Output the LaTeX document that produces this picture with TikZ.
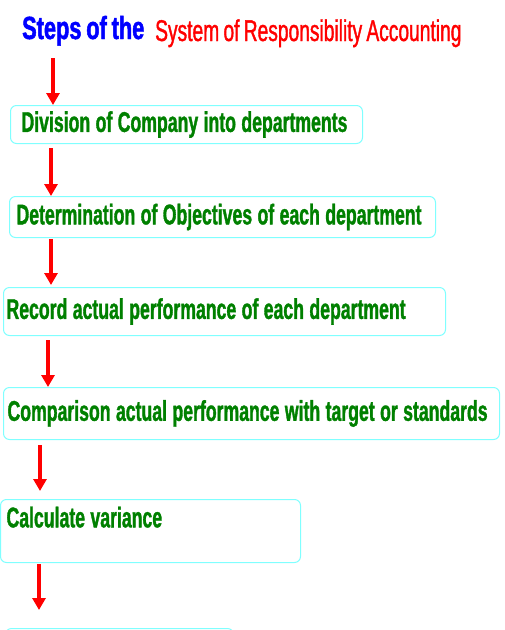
\documentclass[tikz,border=0pt]{standalone}
\usepackage{fontspec}
\usetikzlibrary{arrows.meta}
\newfontfamily\stepfont{Liberation Sans Bold}[FakeStretch=0.62,FakeBold=1.2,WordSpace=1.1]
\newfontfamily\headfont{Liberation Sans Bold}[FakeStretch=0.68,FakeBold=1.5,WordSpace=0.8]
\newfontfamily\subheadfont{Liberation Sans}[FakeStretch=0.64,FakeBold=1.2,WordSpace=0.8]
\definecolor{boxcyan}{RGB}{128,255,255}
\definecolor{stepgreen}{RGB}{0,128,0}
\hyphenpenalty=10000
\tikzset{
    mybox/.style = {rectangle, draw=boxcyan, line width=1pt, rounded corners=6pt,
        anchor=north west, align=flush left, inner ysep=0pt, text=stepgreen,
        font=\stepfont\fontsize{28.5pt}{32pt}\selectfont},
    flowr/.style = {-{Triangle[width=13pt,length=12pt]}, line width=4pt, red},
    headb/.style = {anchor=base west, inner sep=0pt, text=blue,
        font=\headfont\fontsize{32pt}{36pt}\selectfont},
    headr/.style = {anchor=base west, inner sep=0pt, text=red,
        font=\subheadfont\fontsize{30pt}{34pt}\selectfont}
}

\begin{document}
\begin{tikzpicture}[x=1pt,y=-1pt]
\useasboundingbox (0,0) rectangle (505,630);
\node[headb] at (22,39) (t1) {Steps of the};
\node[headr] at (155,41) (t2) {System of Responsibility Accounting};
\coordinate (start) at (53,58);
%
\node[mybox, inner xsep=11pt, text width=330pt, minimum height=38pt] at (10,105) (b1) {Division of Company into departments};
\node[mybox, inner xsep=7pt, text width=412pt, minimum height=41pt] at (9,196) (b2) {Determination of Objectives of each department};
\node[mybox, inner xsep=3pt, text width=436pt, minimum height=48pt] at (3,287) (b3) {Record actual performance of each department};
\node[mybox, inner xsep=4pt, text width=488pt, minimum height=52pt] at (3,387) (b4) {Comparison actual performance with target or standards};
\node[mybox, inner xsep=6pt, text width=288pt, minimum height=63pt, text depth=28pt] at (0,499) (b5) {Calculate variance};
\node[mybox, inner xsep=0pt, text width=228pt, minimum height=40pt] at (5,628) (b6) {};
%
\draw[flowr] (start) -- (start |- b1.north);
\draw[flowr] ([xshift=41pt,yshift=-4pt]b1.south west) -- ([xshift=42pt]b2.north west);
\draw[flowr] ([xshift=42pt,yshift=-1pt]b2.south west) -- ([xshift=48pt,yshift=2pt]b3.north west);
\draw[flowr] ([xshift=45pt,yshift=-4pt]b3.south west) -- ([xshift=45pt]b4.north west);
\draw[flowr] ([xshift=37pt,yshift=-5pt]b4.south west) -- ([xshift=40pt,yshift=8pt]b5.north west);
\draw[flowr] ([xshift=39pt,yshift=-1pt]b5.south west) -- ([xshift=34pt,yshift=18pt]b6.north west);
\end{tikzpicture}
\end{document}
